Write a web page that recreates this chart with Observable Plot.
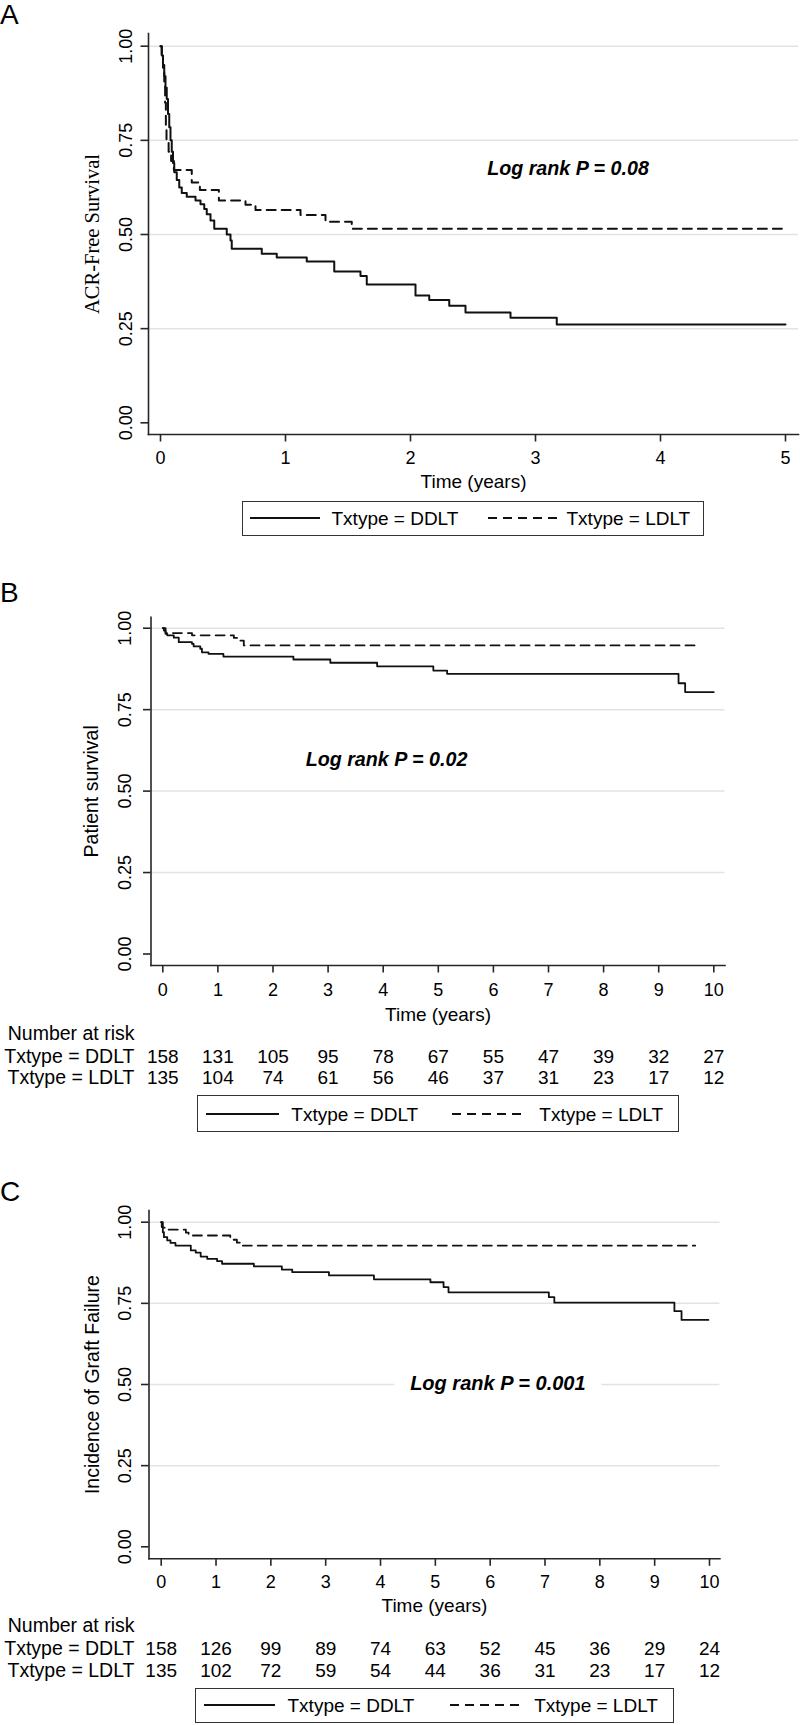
<!DOCTYPE html>
<html>
<head>
<meta charset="utf-8">
<script src="https://cdn.jsdelivr.net/npm/d3@7"></script>
<script src="https://cdn.jsdelivr.net/npm/@observablehq/plot@0.6"></script>
<style>
  html, body { margin: 0; padding: 0; background: #fff; }
  #root { position: relative; width: 800px; height: 1725px; overflow: hidden;
          font-family: "Liberation Sans", Arial, sans-serif; color: #000; }
  .letter { position: absolute; left: 0; font-size: 28px; line-height: 28px; }
  .legend { position: absolute; box-sizing: border-box; border: 1.4px solid #333; background: #fff; }
  .legend .it { position: absolute; top: 50%; transform: translateY(-50%); font-size: 19px; line-height: 1; white-space: nowrap; }
  .legend svg { display: block; }
</style>
</head>
<body>
<div id="root"></div>
<script>
// ---------------- data ----------------
const X_TICKS_A = [0, 1, 2, 3, 4, 5];
const X_TICKS_BC = [0, 1, 2, 3, 4, 5, 6, 7, 8, 9, 10];
const Y_TICKS = [0, 0.25, 0.5, 0.75, 1];
const GRID_TICKS = [0.25, 0.5, 0.75, 1];
const GROUPS = ["Txtype = DDLT", "Txtype = LDLT"];

// Panel A: ACR-free survival
const A_DDLT_t = [0,0.01,0.02,0.03,0.04,0.05,0.06,0.07,0.08,0.09,0.10,0.11,0.13,0.15,0.17,0.21,0.28,0.32,0.35,0.37,0.40,0.43,0.53,0.56,0.57,0.81,0.93,1.17,1.39,1.60,1.65,2.04,2.15,2.31,2.44,2.80,3.17,5.00];
const A_DDLT_s = [1,0.975,0.95,0.92,0.89,0.86,0.82,0.785,0.75,0.72,0.69,0.665,0.645,0.625,0.61,0.60,0.59,0.58,0.568,0.554,0.537,0.515,0.50,0.484,0.462,0.449,0.439,0.428,0.402,0.39,0.367,0.338,0.326,0.311,0.293,0.279,0.261,0.261];
const A_LDLT_t = [0,0.01,0.02,0.03,0.037,0.043,0.048,0.065,0.085,0.107,0.25,0.315,0.467,0.68,0.76,1.12,1.32,1.53,4.98];
const A_LDLT_s = [1,0.97,0.94,0.90,0.85,0.79,0.75,0.72,0.695,0.671,0.638,0.618,0.59,0.579,0.565,0.552,0.534,0.515,0.515];

// Panel B: patient survival
const B_DDLT_t = [0,0.02,0.05,0.08,0.2,0.29,0.53,0.56,0.68,0.71,0.83,1.1,2.37,3.04,3.89,4.91,5.16,9.36,9.48,10.0];
const B_DDLT_s = [1,0.993,0.983,0.978,0.971,0.957,0.952,0.944,0.937,0.926,0.921,0.913,0.904,0.894,0.883,0.87,0.86,0.831,0.804,0.804];
const B_LDLT_t = [0,0.05,0.53,1.29,1.35,1.47,9.68];
const B_LDLT_s = [1,0.985,0.978,0.97,0.962,0.947,0.947];

// Panel C: graft failure
const C_DDLT_t = [0,0.01,0.03,0.05,0.11,0.17,0.26,0.54,0.63,0.72,0.84,1.02,1.11,1.69,2.2,2.39,3.06,3.88,4.91,5.15,5.24,7.07,7.17,9.36,9.49,9.98];
const C_DDLT_s = [1,0.985,0.969,0.954,0.944,0.936,0.928,0.913,0.906,0.894,0.887,0.88,0.872,0.864,0.854,0.846,0.836,0.824,0.815,0.80,0.784,0.769,0.752,0.726,0.699,0.699];
const C_LDLT_t = [0,0.03,0.08,0.45,0.5,1.26,1.3,1.38,1.45,9.74];
const C_LDLT_s = [1,0.983,0.977,0.968,0.959,0.952,0.946,0.937,0.928,0.928];

// Numbers at risk
const RISK_TIMES = [0,1,2,3,4,5,6,7,8,9,10];
const B_RISK_DDLT = [158,131,105,95,78,67,55,47,39,32,27];
const B_RISK_LDLT = [135,104,74,61,56,46,37,31,23,17,12];
const C_RISK_DDLT = [158,126,99,89,74,63,52,45,36,29,24];
const C_RISK_LDLT = [135,102,72,59,54,44,36,31,23,17,12];

// Annotations
const LOGRANK_A = {t: 3.26, s: 0.675, label: "Log rank P = 0.08"};
const LOGRANK_B = {t: 4.06, s: 0.597, label: "Log rank P = 0.02"};
const LOGRANK_C = {t: 6.14, s: 0.504, label: "Log rank P = 0.001"};

// ---------------- drawing ----------------
const SANS = '"Liberation Sans", Arial, Helvetica, sans-serif';
const SERIF = '"Liberation Serif", "Times New Roman", Times, serif';
const AXIS = "#262626";
const root = document.getElementById("root");

function makePanel(c) {
  const ddlt = c.ddltT.map((t, i) => ({t, s: c.ddltS[i]}));
  const ldlt = c.ldltT.map((t, i) => ({t, s: c.ldltS[i]}));
  const marks = [
    Plot.gridY(GRID_TICKS, {stroke: "#e3e3e3", strokeOpacity: 1, strokeWidth: 1.5}),
    Plot.frame({anchor: "left", stroke: AXIS, strokeWidth: 1.6}),
    Plot.frame({anchor: "bottom", stroke: AXIS, strokeWidth: 1.6}),
    Plot.axisX(c.xTicks, {tickSize: 7.5, tickPadding: c.xPad, fontSize: 18, label: null, stroke: AXIS, strokeWidth: 1.6,
      tickFormat: d => String(d)}),
    Plot.axisY(Y_TICKS, {tickSize: 7.5, tickFormat: () => "", label: null, stroke: AXIS, strokeWidth: 1.6}),
    Plot.text(Y_TICKS, {y: d => d, text: d => d.toFixed(2), frameAnchor: "left", dx: c.yTickDx,
      rotate: -90, textAnchor: "middle", lineAnchor: "bottom", fontSize: 18}),
    Plot.text([c.yLabel], {text: d => d, frameAnchor: "left", dx: c.yLabelDx, rotate: -90,
      textAnchor: "middle", lineAnchor: "bottom", fontSize: c.yLabelSize, fontFamily: c.yLabelFont}),
    Plot.text(["Time (years)"], {text: d => d, frameAnchor: "bottom", dy: c.timeDy, lineAnchor: "middle", fontSize: 19}),
    Plot.line(ddlt, {x: "t", y: "s", curve: "step-after", stroke: "#111", strokeWidth: c.lw}),
    Plot.line(ldlt, {x: "t", y: "s", curve: "step-after", stroke: "#111", strokeWidth: c.lw, strokeDasharray: "9,6"}),
    Plot.text([c.logrank], Object.assign({x: "t", y: "s", text: "label", fontWeight: "bold", fontStyle: "italic",
      fontSize: c.lrSize, lineAnchor: "middle", textAnchor: "middle", fill: "#000"},
      c.halo ? {stroke: "white", strokeWidth: c.halo, strokeLinejoin: "round"} : {}))
  ];
  if (c.risk) {
    const r = c.risk;
    const lab = (txt, dy) => Plot.text([txt], {text: d => d, frameAnchor: "bottom-left", dx: 134 - c.ml, dy,
      textAnchor: "end", lineAnchor: "middle", fontSize: 19.5});
    marks.push(
      lab("Number at risk", r.narDy),
      lab(GROUPS[0], r.d1),
      lab(GROUPS[1], r.d2),
      Plot.text(RISK_TIMES, {x: d => d, text: (d, i) => String(r.ddlt[i]), frameAnchor: "bottom", dy: r.d1, lineAnchor: "middle", fontSize: 19}),
      Plot.text(RISK_TIMES, {x: d => d, text: (d, i) => String(r.ldlt[i]), frameAnchor: "bottom", dy: r.d2, lineAnchor: "middle", fontSize: 19})
    );
  }
  const svg = Plot.plot({
    width: 800, height: c.height,
    marginLeft: c.ml, marginRight: c.mr, marginTop: c.mt, marginBottom: c.mb,
    x: {domain: c.xDomain, insetLeft: c.iL, insetRight: c.iR},
    y: {domain: [0, 1], insetTop: c.iT, insetBottom: c.iB},
    style: {fontFamily: SANS, fontSize: "18px", color: "#000", background: "transparent", overflow: "visible"},
    marks
  });
  svg.style.position = "absolute";
  svg.style.left = "0px";
  svg.style.top = c.top + "px";
  root.appendChild(svg);

  // panel letter
  const L = document.createElement("div");
  L.className = "letter";
  L.textContent = c.letter;
  L.style.top = c.letterTop + "px";
  root.appendChild(L);

  // legend
  const g = c.legend;
  const box = document.createElement("div");
  box.className = "legend";
  Object.assign(box.style, {left: g.left + "px", top: g.top + "px", width: g.w + "px", height: g.h + "px"});
  const sw = (x, w, dash) => {
    const d = document.createElement("div");
    d.className = "it";
    d.style.left = x + "px";
    d.innerHTML = `<svg width="${w}" height="4"><line x1="0" y1="2" x2="${w}" y2="2" stroke="#111" stroke-width="2" ${dash ? 'stroke-dasharray="9,6"' : ""}/></svg>`;
    box.appendChild(d);
  };
  const tx = (x, s) => {
    const d = document.createElement("div");
    d.className = "it";
    d.style.left = x + "px";
    d.textContent = s;
    box.appendChild(d);
  };
  sw(g.l1, g.lw, false); tx(g.t1, GROUPS[0]);
  sw(g.l2, g.lw, true); tx(g.t2, GROUPS[1]);
  root.appendChild(box);
}

makePanel({
  letter: "A", letterTop: 1.3, top: 0, height: 500,
  ml: 148, mr: 2, mt: 33, mb: 66, xDomain: [0, 5], iL: 12, iR: 13, iT: 12.7, iB: 11.7,
  xTicks: X_TICKS_A, xPad: 9.1, yTickDx: -16.3, yLabelDx: -49.7,
  yLabel: "ACR-Free Survival", yLabelFont: SERIF, yLabelSize: 20.5, timeDy: 47.5, lw: 2,
  ddltT: A_DDLT_t, ddltS: A_DDLT_s, ldltT: A_LDLT_t, ldltS: A_LDLT_s,
  logrank: LOGRANK_A, lrSize: 19.7, halo: 0,
  legend: {left: 242, top: 500.7, w: 462, h: 35.3, l1: 6.5, lw: 70, t1: 88.5, l2: 244.5, t2: 323.5}
});

makePanel({
  letter: "B", letterTop: 579.3, top: 560, height: 530,
  ml: 150.5, mr: 75.5, mt: 56.7, mb: 125, xDomain: [0, 10], iL: 11.8, iR: 11.2, iT: 11, iB: 11.5,
  xTicks: X_TICKS_BC, xPad: 10, yTickDx: -19.8, yLabelDx: -53.2,
  yLabel: "Patient survival", yLabelFont: SANS, yLabelSize: 19.5, timeDy: 49.5, lw: 1.8,
  ddltT: B_DDLT_t, ddltS: B_DDLT_s, ldltT: B_LDLT_t, ldltS: B_LDLT_s,
  logrank: LOGRANK_B, lrSize: 19.7, halo: 0,
  risk: {narDy: 68.5, d1: 91, d2: 112.5, ddlt: B_RISK_DDLT, ldlt: B_RISK_LDLT},
  legend: {left: 197.4, top: 1095, w: 481.2, h: 37, l1: 7.7, lw: 73, t1: 92.9, l2: 254.1, t2: 340.9}
});

makePanel({
  letter: "C", letterTop: 1178.3, top: 1150, height: 535,
  ml: 148.5, mr: 80.6, mt: 60, mb: 126.7, xDomain: [0, 10], iL: 12.2, iR: 10.4, iT: 11.7, iB: 12,
  xTicks: X_TICKS_BC, xPad: 8.5, yTickDx: -17.8, yLabelDx: -50.2,
  yLabel: "Incidence of Graft Failure", yLabelFont: SANS, yLabelSize: 19.5, timeDy: 47.5, lw: 1.8,
  ddltT: C_DDLT_t, ddltS: C_DDLT_s, ldltT: C_LDLT_t, ldltS: C_LDLT_s,
  logrank: LOGRANK_C, lrSize: 20, halo: 34,
  risk: {narDy: 67.4, d1: 90, d2: 111.7, ddlt: C_RISK_DDLT, ldlt: C_RISK_LDLT},
  legend: {left: 195, top: 1687.7, w: 478.5, h: 35.3, l1: 7.5, lw: 71.5, t1: 91.5, l2: 253.5, t2: 338.2}
});
</script>
</body>
</html>
